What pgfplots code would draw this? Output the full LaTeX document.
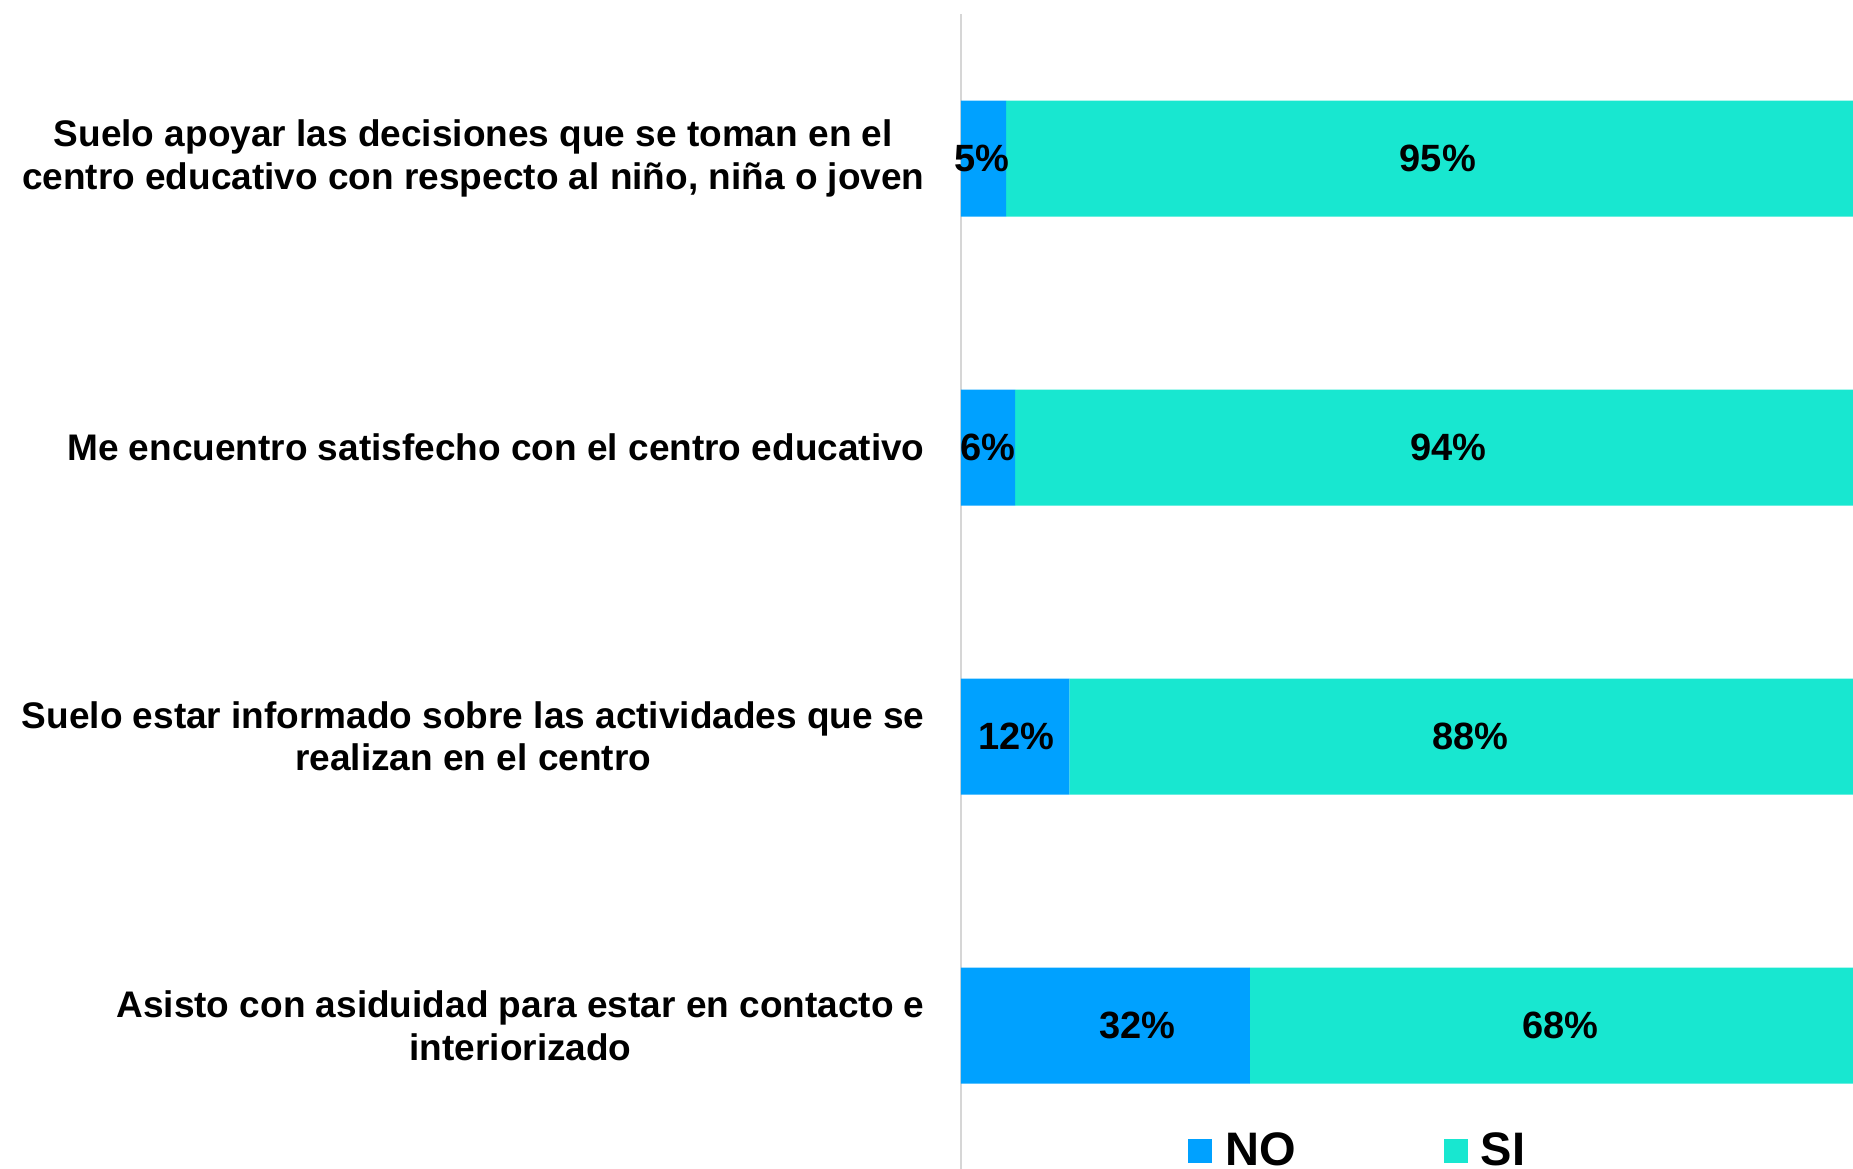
\documentclass[border=0pt]{standalone}
\usepackage{pgfplots}
\pgfplotsset{compat=1.18}
\usepackage{pgfplotstable}
\usepackage{fontspec}
\setmainfont{Liberation Sans}
\definecolor{nocol}{RGB}{0,161,255}
\definecolor{sicol}{RGB}{24,231,208}
% NO, SI values; NOlx, SIlx: where the data labels sit in the original chart
\pgfplotstableread{
y NO SI NOlx SIlx
0 5 95 2.3 52.8
1 6 94 3.0 54.0
2 12 88 6.1 56.4
3 32 68 19.5 66.4
}\data
\pgfplotsset{common/.style={
  at={(480.5pt,-7pt)}, anchor=north west,
  scale only axis, width=446.1pt, height=578pt,
  xmin=0, xmax=98.8, ymin=-0.5, ymax=3.5, y dir=reverse}}
\begin{document}
\begin{tikzpicture}
\begin{axis}[
  common,
  xbar stacked, bar width=58pt,
  axis x line=none, axis y line*=left,
  y axis line style={draw=black!16, line width=0.8pt},
  major tick length=0pt,
  ytick={0,1,2,3},
  yticklabels={{Suelo apoyar las decisiones que se toman en el\\centro educativo con respecto al niño, niña o joven},
               {Me encuentro satisfecho con el centro educativo},
               {Suelo estar informado sobre las actividades que se\\realizan en el centro},
               {Asisto con asiduidad para estar en contacto e\\interiorizado}},
  yticklabel style={align=center, anchor=east, inner sep=0pt, xshift=-18pt,
     font=\fontsize{18.5pt}{21.25pt}\selectfont\bfseries},
  legend columns=2,
  legend style={at={(axis description cs:0.2545,0.0164)}, anchor=west, draw=none, fill=none,
     inner sep=0pt, font=\fontsize{23.5pt}{27pt}\selectfont\bfseries,
     /tikz/every odd column/.append style={column sep=4.5pt},
     /tikz/every even column/.append style={column sep=72pt}},
  legend image code/.code={\fill[#1] (0pt,-6pt) rectangle (12pt,6pt);},
]
\addplot[fill=nocol, draw=none] table[x=NO, y=y] {\data};
\addlegendentry{NO}
\addplot[fill=sicol, draw=none] table[x=SI, y=y] {\data};
\addlegendentry{SI}
\end{axis}
\begin{axis}[
  common, hide axis, clip=false,
  point meta=explicit symbolic,
  nodes near coords={\pgfplotspointmeta\%},
  every node near coord/.append style={font=\fontsize{19pt}{22pt}\selectfont\bfseries,
     text=black, anchor=center, inner sep=0pt},
]
\addplot[only marks, mark=none] table[x=NOlx, y=y, meta=NO] {\data};
\addplot[only marks, mark=none] table[x=SIlx, y=y, meta=SI] {\data};
\end{axis}
\pgfresetboundingbox
\useasboundingbox (0pt,0pt) rectangle (926.5pt,-584pt);
\end{tikzpicture}
\end{document}
